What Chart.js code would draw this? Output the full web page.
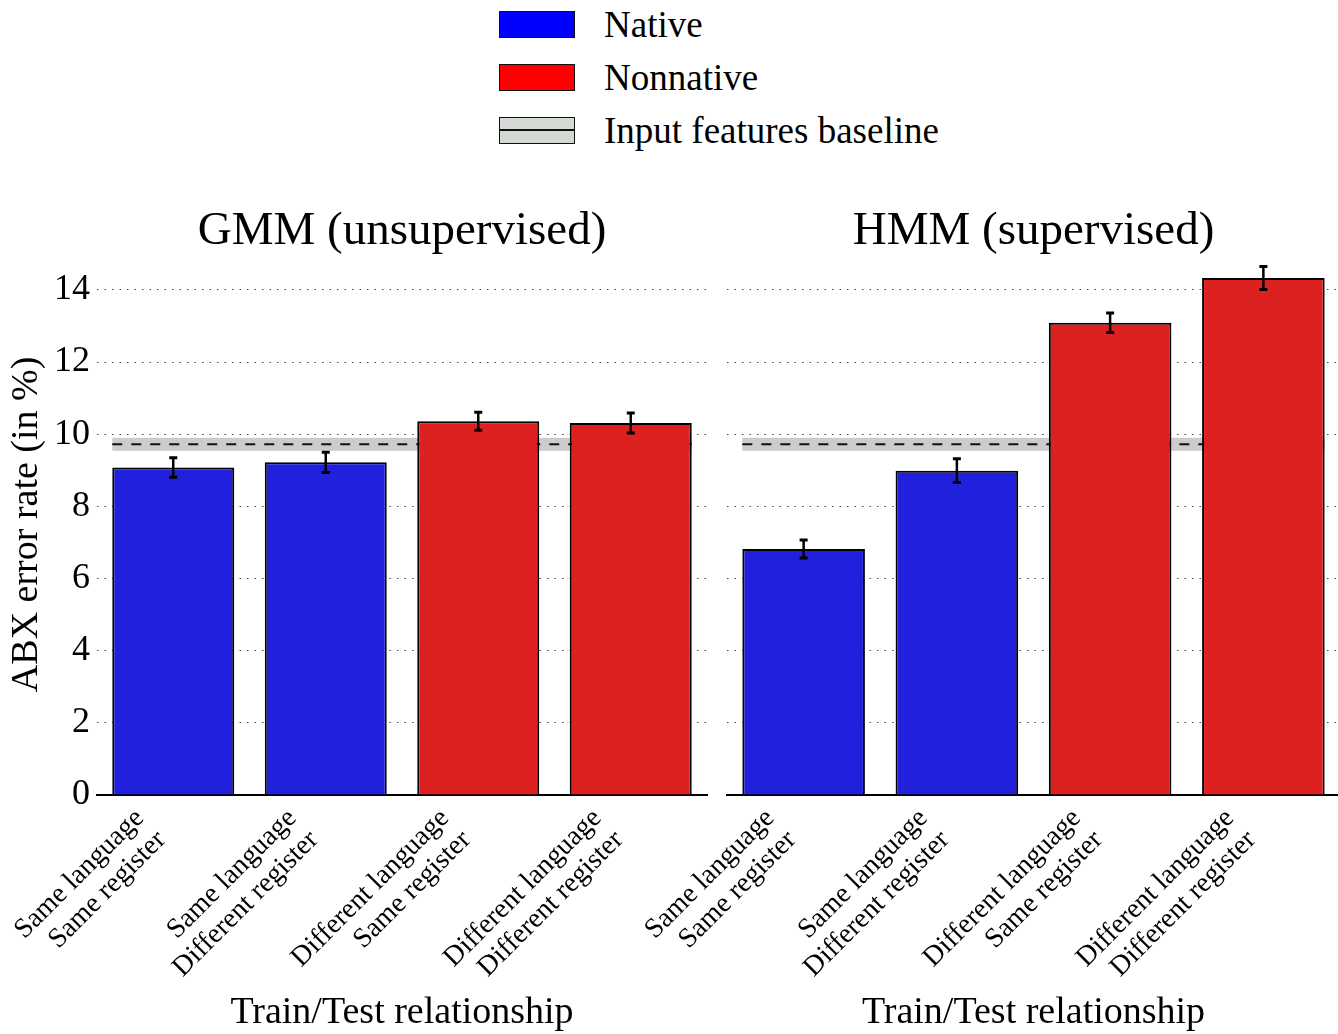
<!DOCTYPE html>
<html>
<head>
<meta charset="utf-8">
<script src="https://cdn.jsdelivr.net/npm/chart.js@4.4.0/dist/chart.umd.min.js"></script>
<style>
  body { margin: 0; background: #fff; }
  #wrap { position: relative; width: 1338px; height: 1034px; overflow: hidden; font-family: 'Liberation Serif', 'Times New Roman', serif; }
  .chart-box { position: absolute; top: 160px; height: 874px; }
  #leftBox { left: 0; width: 715px; }
  #rightBox { left: 640px; width: 700px; }
  .lg-patch { position: absolute; left: 499px; width: 76px; height: 27px; box-sizing: border-box; border: 1.5px solid #111; }
  .lg-line { position: absolute; left: 0; right: 0; top: 11px; height: 2px; background: #111; }
  .lg-text { position: absolute; left: 604px; font-size: 37px; line-height: 37px; color: #000; white-space: nowrap; }
</style>
</head>
<body>
<div id="wrap">
  <div class="lg-patch" style="top:11px; background:#0000ff;"></div>
  <div class="lg-text" style="top:6px;">Native</div>
  <div class="lg-patch" style="top:64px; background:#ff0000;"></div>
  <div class="lg-text" style="top:59px;">Nonnative</div>
  <div class="lg-patch" style="top:117px; background:#d4d9d4;"><div class="lg-line"></div></div>
  <div class="lg-text" style="top:112px;">Input features baseline</div>

  <div class="chart-box" id="leftBox"><canvas id="gmmChart"></canvas></div>
  <div class="chart-box" id="rightBox"><canvas id="hmmChart"></canvas></div>
</div>

<script>
// data
const categories = [
  ['Same language', 'Same register'],
  ['Same language', 'Different register'],
  ['Different language', 'Same register'],
  ['Different language', 'Different register']
];
const barGroups = ['Native', 'Native', 'Nonnative', 'Nonnative'];
const gmmValues = [9.08, 9.22, 10.36, 10.31];
const gmmErrors = [0.27, 0.28, 0.25, 0.28];
const hmmValues = [6.82, 8.99, 13.09, 14.33];
const hmmErrors = [0.25, 0.33, 0.27, 0.32];
const baselineValue = 9.72;
const baselineSpread = 0.18;
const yTicks = [0, 2, 4, 6, 8, 10, 12, 14];
const yMax = 15;

const serif = "'Liberation Serif', 'Times New Roman', serif";
const groupColors = { Native: '#2020dd', Nonnative: '#dd2020' };

// grey band + dashed line for the input features baseline, under the bars
const baselinePlugin = {
  id: 'baselineBand',
  beforeDatasetsDraw(chart) {
    const { ctx, scales: { y } } = chart;
    const bars = chart.getDatasetMeta(0).data;
    const first = bars[0], last = bars[bars.length - 1];
    const x0 = first.x - first.width / 2;
    const x1 = last.x + last.width / 2;
    const yTop = y.getPixelForValue(baselineValue + baselineSpread);
    const yBot = y.getPixelForValue(baselineValue - baselineSpread);
    const yMid = y.getPixelForValue(baselineValue);
    ctx.save();
    ctx.fillStyle = '#cccccc';
    ctx.fillRect(x0, yTop, x1 - x0, yBot - yTop);
    ctx.strokeStyle = '#111';
    ctx.lineWidth = 2;
    ctx.setLineDash([10, 9]);
    ctx.beginPath();
    ctx.moveTo(x0, yMid);
    ctx.lineTo(x1, yMid);
    ctx.stroke();
    ctx.restore();
  }
};

// error bars on top of each bar
const errorBarPlugin = {
  id: 'errorBars',
  afterDatasetsDraw(chart) {
    const { ctx, scales: { y } } = chart;
    const ds = chart.data.datasets[0];
    const bars = chart.getDatasetMeta(0).data;
    ctx.save();
    ctx.strokeStyle = '#000';
    bars.forEach((bar, i) => {
      const top = y.getPixelForValue(ds.data[i] + ds.errors[i]);
      const bot = y.getPixelForValue(ds.data[i] - ds.errors[i]);
      ctx.lineWidth = 2.5;
      ctx.beginPath();
      ctx.moveTo(bar.x, top);
      ctx.lineTo(bar.x, bot);
      ctx.stroke();
      ctx.lineWidth = 3;
      ctx.beginPath();
      ctx.moveTo(bar.x - 4, top); ctx.lineTo(bar.x + 4, top);
      ctx.moveTo(bar.x - 4, bot); ctx.lineTo(bar.x + 4, bot);
      ctx.stroke();
    });
    ctx.restore();
  }
};

function makePanel(canvasId, title, values, errors, showY) {
  return new Chart(document.getElementById(canvasId), {
    type: 'bar',
    data: {
      labels: categories,
      datasets: [{
        data: values,
        errors: errors,
        backgroundColor: barGroups.map(g => groupColors[g]),
        borderColor: '#000',
        borderWidth: 2,
        barPercentage: 0.8,
        categoryPercentage: 1.0
      }]
    },
    options: {
      responsive: true,
      maintainAspectRatio: false,
      animation: false,
      layout: { padding: { left: 0, right: showY ? 8 : 0, top: 0, bottom: 0 } },
      plugins: {
        legend: { display: false },
        tooltip: { enabled: false },
        title: {
          display: true,
          text: title,
          fullSize: false,
          color: '#000',
          font: { family: serif, size: 47, weight: 'normal', lineHeight: 0.9 },
          padding: { top: 51, bottom: 0.5 }
        }
      },
      scales: {
        x: {
          grid: { display: false },
          border: { display: true, color: '#000', width: 2 },
          ticks: {
            color: '#000',
            font: { family: serif, size: 28, lineHeight: 1.1 },
            maxRotation: 45,
            minRotation: 45,
            autoSkip: false,
            padding: 0,
            labelOffset: -33.5
          },
          title: {
            display: true,
            text: 'Train/Test relationship',
            color: '#000',
            font: { family: serif, size: 38, lineHeight: 1.1 },
            padding: { top: 0, bottom: 0 }
          },
          afterFit(scale) {
            scale.height = 239;
            scale.paddingLeft = 0;
            scale.paddingRight = 0;
          }
        },
        y: {
          min: 0,
          max: yMax,
          afterBuildTicks(scale) { scale.ticks = yTicks.map(v => ({ value: v })); },
          grid: { color: '#444', lineWidth: 1, drawTicks: false },
          border: { display: false, dash: [1.5, 6] },
          ticks: {
            display: showY,
            color: '#000',
            font: { family: serif, size: 36 },
            padding: 7
          },
          title: {
            display: showY,
            text: 'ABX error rate (in %)',
            color: '#000',
            font: { family: serif, size: 38, lineHeight: 1.2 },
            padding: { top: 4, bottom: 0 }
          },
          afterFit(scale) { scale.width = showY ? 97 : 87; }
        }
      }
    },
    plugins: [baselinePlugin, errorBarPlugin]
  });
}

makePanel('gmmChart', 'GMM (unsupervised)', gmmValues, gmmErrors, true);
makePanel('hmmChart', 'HMM (supervised)', hmmValues, hmmErrors, false);
</script>
</body>
</html>
